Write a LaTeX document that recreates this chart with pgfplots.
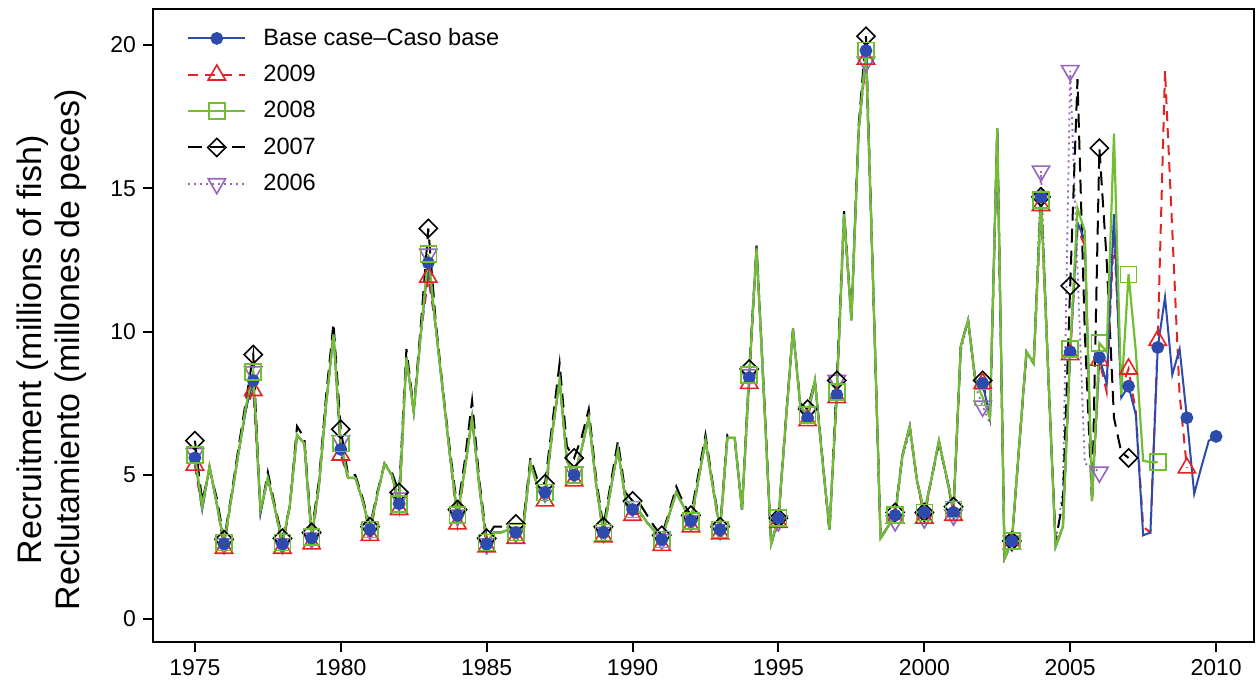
\documentclass[border=0pt]{standalone}
\usepackage{fontspec}
\setmainfont{Liberation Sans}
\usepackage{pgfplots}
\usepackage{pgfplotstable}
\pgfplotsset{compat=1.18}

\definecolor{cblue}{RGB}{45,75,170}
\definecolor{cred}{RGB}{225,35,35}
\definecolor{cgreen}{RGB}{112,190,50}
\definecolor{cpurple}{RGB}{150,100,190}

% quarterly recruitment, B = base case, R = 2009, G = 2008, K = 2007, P = 2006
\pgfplotstableread{
t B R G K P
1975.00 5.6 5.35 5.7 6.2 5.75
1975.25 3.8 3.8 3.9 4.1 3.8
1975.50 5.3 5.3 5.3 5.2 5.3
1975.75 4.0 4.0 4.0 4.2 4.0
1976.00 2.6 2.45 2.65 2.75 2.6
1976.25 4.2 4.2 4.2 4.3 4.2
1976.50 5.8 5.8 5.8 6.0 5.8
1976.75 7.3 7.3 7.4 7.6 7.3
1977.00 8.3 7.95 8.6 9.2 8.6
1977.25 3.7 3.7 3.8 3.7 3.7
1977.50 4.9 4.9 4.9 5.1 4.9
1977.75 3.8 3.8 3.8 3.9 3.8
1978.00 2.6 2.45 2.65 2.8 2.6
1978.25 3.9 3.9 3.9 3.9 3.9
1978.50 6.4 6.4 6.4 6.7 6.4
1978.75 6.1 6.1 6.1 6.3 6.1
1979.00 2.8 2.6 2.85 3.0 2.8
1979.25 4.6 4.6 4.6 4.8 4.6
1979.50 7.5 7.5 7.5 7.8 7.5
1979.75 9.9 9.9 9.9 10.3 9.9
1980.00 5.9 5.7 6.1 6.6 6.2
1980.25 4.9 4.9 4.9 5.0 4.9
1980.50 4.9 4.9 4.9 5.0 4.9
1980.75 4.1 4.1 4.1 4.2 4.1
1981.00 3.1 2.9 3.1 3.2 3.1
1981.25 4.3 4.3 4.3 4.4 4.3
1981.50 5.4 5.4 5.4 5.4 5.4
1981.75 5.0 5.0 5.0 5.1 5.0
1982.00 4.0 3.8 4.0 4.4 4.2
1982.25 9.1 9.1 9.1 9.4 9.1
1982.50 7.2 7.2 7.2 7.3 7.2
1982.75 10.0 10.0 10.0 10.3 10.0
1983.00 12.4 11.9 12.7 13.6 12.7
1983.25 10.2 10.2 10.2 10.4 10.2
1983.50 7.9 7.9 7.9 8.0 7.9
1983.75 5.6 5.6 5.6 5.8 5.6
1984.00 3.6 3.3 3.6 3.8 3.6
1984.25 5.2 5.2 5.2 5.5 5.2
1984.50 7.0 7.0 7.0 7.6 7.0
1984.75 4.6 4.6 4.6 4.8 4.6
1985.00 2.6 2.5 2.65 2.8 2.6
1985.25 3.0 3.0 3.0 3.2 3.0
1985.50 3.0 3.0 3.0 3.2 3.0
1985.75 3.1 3.1 3.1 3.3 3.1
1986.00 3.0 2.8 3.0 3.3 3.0
1986.25 3.1 3.1 3.1 3.3 3.1
1986.50 5.4 5.4 5.4 5.6 5.4
1986.75 4.6 4.6 4.6 4.8 4.6
1987.00 4.4 4.1 4.4 4.7 4.4
1987.25 6.5 6.5 6.5 6.8 6.5
1987.50 8.3 8.3 8.3 8.9 8.3
1987.75 5.5 5.5 5.5 6.0 5.5
1988.00 5.0 4.8 5.0 5.6 5.1
1988.25 5.9 5.9 5.9 6.3 5.9
1988.50 7.0 7.0 7.0 7.3 7.0
1988.75 4.7 4.7 4.7 4.9 4.7
1989.00 3.0 2.85 3.0 3.2 3.0
1989.25 4.5 4.5 4.5 4.7 4.5
1989.50 5.9 5.9 5.9 6.2 5.9
1989.75 4.2 4.2 4.2 4.4 4.2
1990.00 3.8 3.6 3.8 4.1 3.9
1990.25 3.7 3.7 3.7 4.0 3.7
1990.50 3.35 3.35 3.35 3.6 3.35
1990.75 3.05 3.05 3.05 3.2 3.05
1991.00 2.75 2.55 2.75 2.9 2.75
1991.25 3.6 3.6 3.6 3.7 3.6
1991.50 4.4 4.4 4.4 4.6 4.4
1991.75 3.9 3.9 3.9 4.0 3.9
1992.00 3.4 3.2 3.4 3.6 3.4
1992.25 4.8 4.8 4.8 5.0 4.8
1992.50 6.2 6.2 6.2 6.4 6.2
1992.75 4.6 4.6 4.6 4.7 4.6
1993.00 3.1 2.95 3.1 3.2 3.1
1993.25 6.3 6.3 6.3 6.4 6.3
1993.50 6.3 6.3 6.3 6.3 6.3
1993.75 3.8 3.8 3.8 3.8 3.8
1994.00 8.4 8.2 8.5 8.7 8.5
1994.25 13.0 13.0 12.9 13.0 12.8
1994.50 7.8 7.8 7.8 8.0 7.8
1994.75 2.6 2.6 2.6 2.6 2.6
1995.00 3.5 3.35 3.5 3.5 3.4
1995.25 6.8 6.8 6.8 6.9 6.8
1995.50 10.1 10.1 10.1 10.1 10.1
1995.75 7.4 7.4 7.4 7.5 7.4
1996.00 7.0 6.9 7.1 7.3 7.2
1996.25 8.3 8.3 8.3 8.3 8.3
1996.50 5.6 5.6 5.6 5.7 5.6
1996.75 3.1 3.1 3.1 3.0 3.1
1997.00 7.8 7.7 7.9 8.3 8.3
1997.25 14.1 14.0 14.1 14.2 14.1
1997.50 10.4 10.4 10.4 10.5 10.4
1997.75 17.0 17.0 17.0 17.2 17.0
1998.00 19.8 19.5 19.8 20.3 19.4
1998.25 11.5 11.5 11.5 11.5 11.5
1998.50 2.8 2.8 2.8 2.8 2.8
1998.75 3.2 3.2 3.2 3.2 3.2
1999.00 3.6 3.5 3.6 3.7 3.4
1999.25 5.7 5.7 5.7 5.7 5.6
1999.50 6.7 6.7 6.7 6.7 6.5
1999.75 4.8 4.8 4.8 4.8 4.8
2000.00 3.7 3.5 3.7 3.7 3.5
2000.25 4.9 4.9 4.9 4.9 4.9
2000.50 6.2 6.2 6.2 6.1 6.1
2000.75 5.0 5.0 5.0 5.0 5.0
2001.00 3.7 3.6 3.8 3.9 3.6
2001.25 9.5 9.5 9.5 9.5 9.3
2001.50 10.4 10.4 10.4 10.4 10.4
2001.75 8.3 8.3 8.3 8.3 8.1
2002.00 8.2 8.2 7.7 8.3 7.4
2002.25 7.0 7.0 7.0 7.0 6.8
2002.50 17.1 17.0 17.1 17.0 17.0
2002.75 2.1 2.1 2.1 2.1 2.1
2003.00 2.7 2.6 2.7 2.7 2.7
2003.25 6.0 6.0 6.0 6.0 6.0
2003.50 9.3 9.3 9.3 9.2 9.3
2003.75 8.9 8.9 8.9 8.9 8.9
2004.00 14.7 14.4 14.6 14.7 15.6
2004.25 8.5 8.5 8.5 8.5 8.7
2004.50 2.5 2.5 2.5 2.7 2.6
2004.75 3.2 3.2 3.2 4.1 4.5
2005.00 9.3 9.2 9.4 11.6 19.1
2005.25 13.8 13.6 14.3 18.8 12.2
2005.50 13.2 13.0 13.5 10.0 5.4
2005.75 4.2 4.2 4.1 4.0 5.3
2006.00 9.1 9.0 9.6 16.4 5.1
2006.25 8.2 7.9 9.3 12.5 nan
2006.50 14.1 13.5 16.9 7.0 nan
2006.75 7.7 8.0 7.8 5.8 nan
2007.00 8.1 8.7 12.0 5.6 nan
2007.25 7.1 7.2 9.3 nan nan
2007.50 2.9 3.2 5.5 nan nan
2007.75 3.0 3.0 5.45 nan nan
2008.00 9.45 9.7 5.45 nan nan
2008.25 11.2 19.1 nan nan nan
2008.50 8.5 13.5 nan nan nan
2008.75 9.4 7.8 nan nan nan
2009.00 7.0 5.25 nan nan nan
2009.25 4.35 nan nan nan nan
2009.50 5.3 nan nan nan nan
2009.75 6.2 nan nan nan nan
2010.00 6.35 nan nan nan nan
}\rec

\pgfplotsset{
  basest/.style={color=cblue, line width=1pt, mark=*, mark size=2.7pt,
    mark options={solid, fill=cblue}},
  r09/.style={color=cred, line width=1pt, dash pattern=on 5pt off 3.5pt,
    mark=triangle, mark size=5pt, mark options={solid, line width=0.8pt}},
  g08/.style={color=cgreen, line width=1.1pt, mark=square, mark size=4pt,
    mark options={solid, line width=0.8pt}},
  k07/.style={color=black, line width=1pt, dash pattern=on 7pt off 4pt,
    mark=square, mark size=3.2pt, mark options={solid, rotate=45, line width=0.8pt}},
  p06/.style={color=cpurple, line width=0.9pt, dash pattern=on 1pt off 2pt,
    mark=triangle, mark size=5pt, mark options={solid, rotate=180, line width=0.8pt}},
}

\begin{document}
\begin{tikzpicture}
\begin{axis}[
    scale only axis, width=551pt, height=317pt,
    at={(0,0)}, anchor=south west,
    xmin=1973.56, xmax=2011.30,
    ymin=-0.836, ymax=21.25,
    xtick={1975,1980,...,2010},
    ytick={0,5,10,15,20},
    tick pos=left, tick align=outside, major tick length=5pt,
    axis line style={line width=1pt},
    tick style={line width=1pt, black},
    /pgf/number format/assume math mode=true,
    /pgf/number format/1000 sep={},
    ticklabel style={font=\fontsize{11.5}{13}\selectfont},
    ylabel={Recruitment (millions of fish)\\Reclutamiento (millones de peces)},
    ylabel style={at={(axis description cs:-0.0917,0.462)}, anchor=center,
      align=center, font=\fontsize{17}{19}\selectfont},
    legend style={at={(axis description cs:0,1)}, anchor=north west,
      xshift=14pt, yshift=-5.5pt, draw=none, fill=none,
      font=\fontsize{11.8}{13}\selectfont, row sep=4.4pt, cells={anchor=west},
      /tikz/every odd column/.append style={column sep=6.5pt}},
    legend image code/.code={\draw[mark repeat=2,mark phase=2,#1]
      plot coordinates {(0pt,0pt) (14.25pt,0pt) (28.5pt,0pt)};},
]
\addlegendimage{basest}\addlegendentry{Base case--Caso base}
\addlegendimage{r09}\addlegendentry{2009}
\addlegendimage{g08}\addlegendentry{2008}
\addlegendimage{k07}\addlegendentry{2007}
\addlegendimage{p06}\addlegendentry{2006}

\addplot[p06, mark repeat=4, forget plot] table[x=t, y=P] {\rec};
\addplot[k07, mark repeat=4, forget plot] table[x=t, y=K] {\rec};
\addplot[r09, mark repeat=4, forget plot] table[x=t, y=R] {\rec};
\addplot[basest, mark repeat=4, forget plot] table[x=t, y=B] {\rec};
\addplot[g08, mark repeat=4, forget plot] table[x=t, y=G] {\rec};
\end{axis}
\pgfresetboundingbox
\useasboundingbox (-76.5pt,-25pt) rectangle (552.5pt,321.5pt);
\end{tikzpicture}
\end{document}
